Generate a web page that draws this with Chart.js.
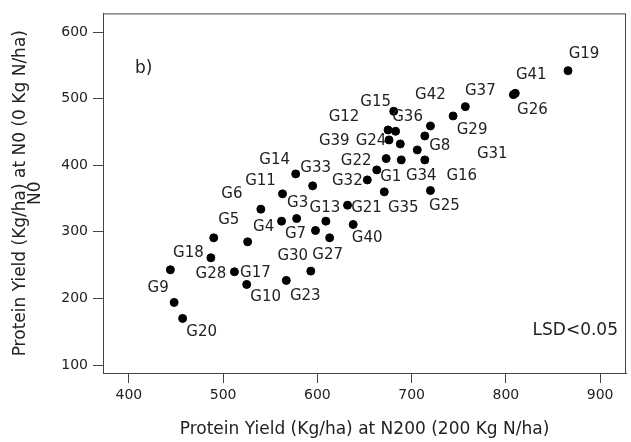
<!DOCTYPE html>
<html>
<head>
<meta charset="utf-8">
<title>Protein Yield N0 vs N200</title>
<script src="https://cdn.jsdelivr.net/npm/chart.js@4"></script>
<style>
    body { margin: 0; background: #ffffff; }
    #chartBox { width: 631px; height: 442px; position: relative; }
</style>
</head>
<body>
<div id="chartBox"><canvas id="yieldChart"></canvas></div>
<script>
// Genotype names (one point without a readable label is left as '')
const genotypes = ['G1', 'G3', 'G4', 'G5', 'G6', 'G7', 'G8', 'G9', 'G10', 'G11',
    'G12', 'G13', 'G14', 'G15', 'G16', 'G17', 'G18', 'G19', 'G20', 'G21',
    'G22', 'G23', 'G24', 'G25', 'G26', 'G27', 'G28', 'G29', 'G30', 'G31',
    'G32', 'G33', 'G34', 'G35', 'G36', 'G37', 'G39', 'G40', 'G41', 'G42', ''];

// Protein yield (Kg/ha) at N200
const yieldN200 = [663, 578, 526, 490, 540, 562, 714, 448, 525, 563,
    675, 609, 577, 681, 714, 512, 444, 866, 457, 632,
    673, 567, 676, 720, 808, 613, 487, 744, 593, 706,
    653, 595, 689, 671, 683, 757, 688, 638, 810, 720, 598];

// Protein yield (Kg/ha) at N0
const yieldN0 = [393, 320, 285, 291, 334, 316, 444, 194, 221, 357,
    453, 316, 387, 481, 408, 240, 243, 542, 170, 340,
    410, 227, 438, 362, 506, 291, 261, 474, 241, 423,
    378, 369, 408, 360, 451, 488, 432, 311, 508, 459, 302];

const xTicks = [400, 500, 600, 700, 800, 900];
const yTicks = [100, 200, 300, 400, 500, 600];

// where each label sits relative to its dot (px)
const labelOffset = {
    G19: [16, -17], G41: [16, -18], G26: [19, 15], G37: [15, -16], G29: [19, 14],
    G42: [0, -31], G15: [-18, -9], G36: [12, -14], G12: [-44, -13], G8: [15, 10],
    G39: [-66, -3], G24: [-18, 1], G31: [75, 4], G22: [-30, 3], G34: [20, 16],
    G16: [37, 16], G1: [14, 7], G32: [-20, 1], G35: [19, 16], G25: [14, 16],
    G14: [-21, -14], G33: [3, -18], G11: [-22, -13], G6: [-29, -15], G21: [19, 3],
    G13: [-1, -13], G3: [1, -15], G7: [14, 13], G4: [16, -15], G40: [14, 14],
    G27: [-2, 17], G5: [15, -18], G28: [0, 16], G17: [21, 1], G10: [19, 13],
    G30: [-18, -15], G23: [19, 16], G18: [18, -17], G9: [-16, -14], G20: [19, 14]
};

const textColor = '#222222';
const axisColor = '#444444';

// Function to build scatter points from the arrays
function buildPoints() {
    return yieldN200.map((x, i) => ({ x: x, y: yieldN0[i] }));
}

// Plugin: frame around the plot, genotype labels and the panel texts
const annotations = {
    id: 'annotations',
    afterDatasetsDraw(chart) {
        const ctx = chart.ctx;
        const area = chart.chartArea;
        const meta = chart.getDatasetMeta(0);
        ctx.save();
        ctx.strokeStyle = axisColor;
        ctx.lineWidth = 1;
        ctx.strokeRect(area.left + 0.5, area.top + 0.5, area.right - area.left - 1, area.bottom - area.top);

        ctx.fillStyle = textColor;
        ctx.textAlign = 'center';
        ctx.textBaseline = 'middle';
        ctx.font = '15px "DejaVu Sans"';
        meta.data.forEach((pt, i) => {
            const name = genotypes[i];
            if (!name) return;
            const off = labelOffset[name] || [18, 0];
            ctx.fillText(name, pt.x + off[0], pt.y + off[1]);
        });

        ctx.font = '17px "DejaVu Sans"';
        ctx.textAlign = 'left';
        ctx.fillText('b)', area.left + 32, area.top + 55);
        ctx.textAlign = 'right';
        ctx.fillText('LSD<0.05', area.right - 8, area.bottom - 42);
        ctx.restore();
    }
};

// Function to create the chart
function createChart() {
    const chartContext = document.getElementById('yieldChart').getContext('2d');
    new Chart(chartContext, {
        type: 'scatter',
        data: {
            datasets: [{
                label: 'Genotypes',
                data: buildPoints(),
                backgroundColor: '#000000',
                borderColor: '#000000',
                pointRadius: 4,
                pointHoverRadius: 4
            }]
        },
        options: {
            responsive: true,
            maintainAspectRatio: false,
            animation: false,
            layout: { padding: { top: 10, right: 2, left: 0, bottom: 0 } },
            plugins: {
                legend: { display: false },
                tooltip: { enabled: false }
            },
            scales: {
                x: {
                    type: 'linear',
                    min: 372.5,
                    max: 927.5,
                    afterBuildTicks: (scale) => { scale.ticks = xTicks.map(v => ({ value: v })); },
                    afterFit: (scale) => { scale.height = 69; },
                    grid: { drawOnChartArea: false, drawTicks: true, tickLength: 10, tickColor: axisColor },
                    border: { display: true, color: axisColor },
                    ticks: { color: textColor, padding: 4, maxRotation: 0, font: { family: 'DejaVu Sans', size: 14 } },
                    title: {
                        display: true,
                        text: 'Protein Yield (Kg/ha) at N200 (200 Kg N/ha)',
                        color: textColor,
                        padding: { top: 0, bottom: 2 },
                        font: { family: 'DejaVu Sans', size: 17 }
                    }
                },
                y: {
                    type: 'linear',
                    min: 88,
                    max: 628,
                    afterBuildTicks: (scale) => { scale.ticks = yTicks.map(v => ({ value: v })); },
                    afterFit: (scale) => { scale.width = 103; },
                    grid: { drawOnChartArea: false, drawTicks: true, tickLength: 10, tickColor: axisColor },
                    border: { display: true, color: axisColor },
                    ticks: { color: textColor, padding: 5, font: { family: 'DejaVu Sans', size: 14 } },
                    title: {
                        display: true,
                        text: ['Protein Yield (Kg/ha) at N0 (0 Kg N/ha)', 'N0'],
                        color: textColor,
                        padding: { top: 13, bottom: 0 },
                        font: { family: 'DejaVu Sans', size: 17, lineHeight: 0.9 }
                    }
                }
            }
        },
        plugins: [annotations]
    });
}

createChart();
</script>
</body>
</html>
